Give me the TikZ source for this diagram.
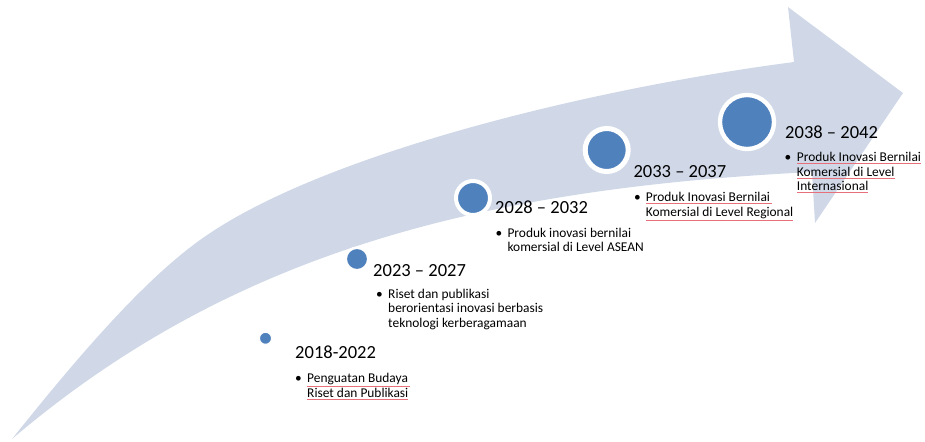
\documentclass[tikz,border=0pt]{standalone}
\usepackage{fontspec}
\setmainfont{Carlito}
\definecolor{arrowfill}{HTML}{D0D8E8}
\definecolor{dotblue}{HTML}{4F81BD}
\definecolor{squig}{HTML}{E8707A}
\newcommand\sqline[1]{\smash{\textcolor{squig}{\underline{\textcolor{black}{#1}}}}}
\newcommand\itemlines[1]{\begin{tabular}[t]{@{}l@{}}#1\end{tabular}}
\tikzset{
  yearlabel/.style={anchor=base west, inner sep=0pt, font=\fontsize{15.8}{19}\selectfont},
  itemtext/.style={anchor=base west, inner sep=0pt, font=\fontsize{11.45}{12.4}\selectfont},
  bulletmark/.style={anchor=base, inner sep=0pt, font=\fontsize{11.45}{12.4}\selectfont},
  milestone/.style={circle, fill=dotblue, draw=white, inner sep=0pt}
}
\begin{document}
\begin{tikzpicture}[x=0.03cm, y=-0.03cm]
\useasboundingbox (0,0) rectangle (925,441);
% curved arrow
\fill[arrowfill] (12,439) .. controls (72,364) and (140,283) .. (200,240)
  .. controls (320,153.6) and (594,88) .. (794,62)
  -- (788,7) -- (903,93) -- (815,223) -- (812,172)
  .. controls (482,188.5) and (232,252) .. (12,439) -- cycle;
% milestones
\node[milestone, minimum size=0.36cm, line width=0.03cm] (m1) at (265.5,338.3) {};
\node[milestone, minimum size=0.675cm, line width=0.075cm] (m2) at (357,259) {};
\node[milestone, minimum size=1.02cm, line width=0.12cm] (m3) at (473,198) {};
\node[milestone, minimum size=1.29cm, line width=0.15cm] (m4) at (606.7,150) {};
\node[milestone, minimum size=1.62cm, line width=0.13cm] (m5) at (747,122) {};
% 2018-2022
\node[yearlabel] (y1) at (295,358.3) {2018-2022};
\node[bulletmark] (b1) at (298.5,382.7) {\textbullet};
\node[itemtext] (t1) at (307,382.7) {\itemlines{\sqline{Penguatan Budaya\,}\\ \sqline{Riset dan Publikasi}}};
% 2023-2027
\node[yearlabel] (y2) at (373,276.3) {2023 -- 2027};
\node[bulletmark] (b2) at (379.5,298.3) {\textbullet};
\node[itemtext] (t2) at (388,298.3) {\itemlines{Riset dan publikasi\\ berorientasi inovasi berbasis\\ teknologi kerberagamaan}};
% 2028-2032
\node[yearlabel] (y3) at (495,213.3) {2028 -- 2032};
\node[bulletmark] (b3) at (499,237.3) {\textbullet};
\node[itemtext] (t3) at (507.3,237.3) {\itemlines{Produk inovasi bernilai\\ komersial di Level ASEAN}};
% 2033-2037
\node[yearlabel] (y4) at (633.3,177.3) {2033 -- 2037};
\node[bulletmark] (b4) at (637.5,201.7) {\textbullet};
\node[itemtext] (t4) at (645.7,201.7) {\itemlines{\sqline{Produk Inovasi Bernilai\,}\\ \sqline{Komersial di Level Regional}}};
% 2038-2042
\node[yearlabel] (y5) at (785,138.3) {2038 -- 2042};
\node[bulletmark] (b5) at (788,161.7) {\textbullet};
\node[itemtext] (t5) at (796.7,161.7) {\itemlines{\sqline{Produk Inovasi Bernilai}\\ \sqline{Komersial di Level}\\ \sqline{Internasional}}};
\end{tikzpicture}
\end{document}
